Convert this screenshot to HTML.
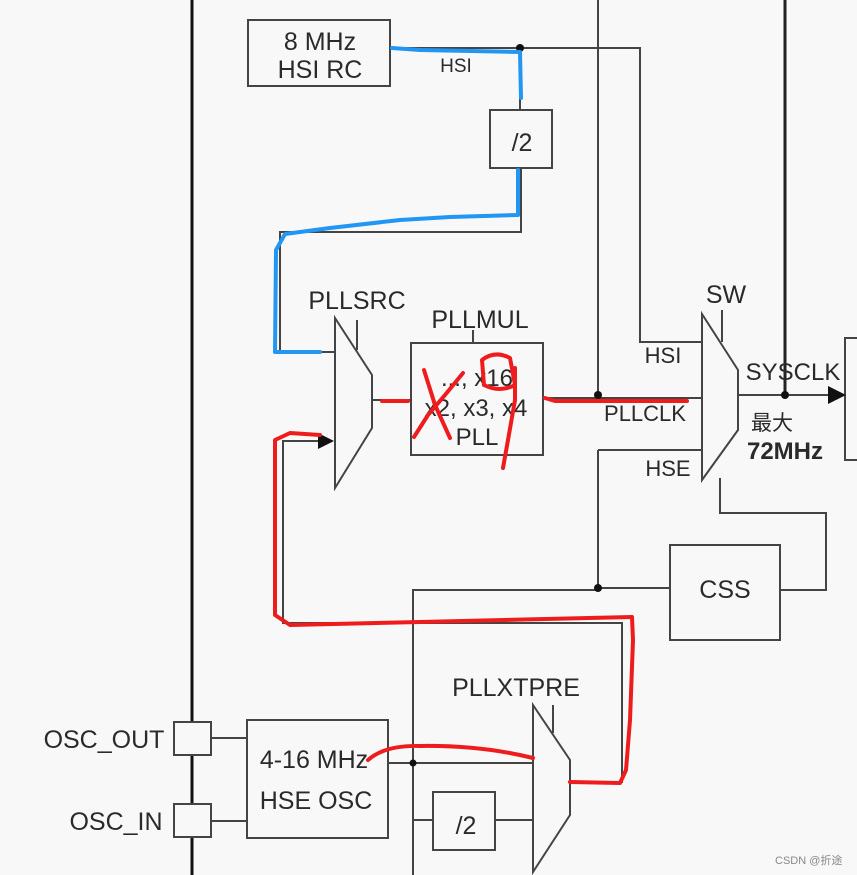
<!DOCTYPE html>
<html><head><meta charset="utf-8"><style>
html,body{margin:0;padding:0;background:#f8f8f8;}
svg{display:block;}
text{font-family:"Liberation Sans","Noto Sans CJK SC",sans-serif;fill:#2a2a2a;}
</style></head><body>
<svg width="857" height="875" viewBox="0 0 857 875" xmlns="http://www.w3.org/2000/svg">
<rect width="857" height="875" fill="#f8f8f8"/>
<g fill="none" stroke="#444" stroke-width="2">
<line x1="192" y1="0" x2="192" y2="875" stroke="#111" stroke-width="3"/>
<line x1="598" y1="0" x2="598" y2="395"/>
<line x1="785" y1="0" x2="785" y2="395" stroke="#222" stroke-width="3"/>
<rect x="248" y="20" width="142" height="66" fill="#f8f8f8"/>
<polyline points="390,48 640,48 640,342 702,342"/>
<line x1="520" y1="48" x2="520" y2="110"/>
<rect x="490" y="110" width="62" height="58"/>
<polyline points="521,168 521,232 280,232 280,352 335,352"/>
<polygon points="335,318 372,375 372,428 335,488"/>
<line x1="357" y1="320" x2="357" y2="350"/>
<line x1="372" y1="400" x2="411" y2="400"/>
<rect x="411" y="343" width="132" height="112"/>
<line x1="473" y1="330" x2="473" y2="343"/>
<line x1="543" y1="398" x2="702" y2="398"/>
<polygon points="702,314 738,370 738,430 702,480"/>
<line x1="722" y1="310" x2="722" y2="342"/>
<line x1="738" y1="395" x2="830" y2="395"/>
<polyline points="598,450 702,450"/>
<line x1="598" y1="450" x2="598" y2="590"/>
<line x1="598" y1="588" x2="670" y2="588"/>
<polyline points="413,875 413,590 598,590"/>
<rect x="670" y="545" width="110" height="95"/>
<polyline points="720,478 720,513 826,513 826,590 780,590"/>
<rect x="845" y="338" width="20" height="122"/>
<polyline points="570,782 622,782 622,623 283,623 283,441 320,441"/>
<rect x="174" y="722" width="37" height="33" fill="#f8f8f8"/>
<rect x="174" y="804" width="37" height="33" fill="#f8f8f8"/>
<line x1="211" y1="738" x2="247" y2="738"/>
<line x1="211" y1="821" x2="247" y2="821"/>
<rect x="247" y="720" width="141" height="118"/>
<line x1="388" y1="763" x2="533" y2="763"/>
<line x1="413" y1="820" x2="433" y2="820"/>
<rect x="433" y="792" width="62" height="58"/>
<line x1="495" y1="820" x2="533" y2="820"/>
<polygon points="533,705 570,760 570,815 533,872"/>
<line x1="553" y1="705" x2="553" y2="733"/>
</g>
<g fill="#111">
<circle cx="520" cy="48" r="4"/>
<circle cx="598" cy="395" r="4"/>
<circle cx="785" cy="395" r="4"/>
<circle cx="598" cy="588" r="4"/>
<circle cx="413" cy="763" r="3.5"/>
<polygon points="318,433 334,441 318,449"/>
<polygon points="828,386 846,395 828,404"/>
</g>
<g font-size="25" text-anchor="middle">
<text x="320" y="50">8 MHz</text>
<text x="320" y="78">HSI RC</text>
<text x="522" y="151">/2</text>
<text x="357" y="309">PLLSRC</text>
<text x="480" y="328">PLLMUL</text>
<text x="477" y="386" font-size="24">..., x16</text>
<text x="476" y="416" font-size="24">x2, x3, x4</text>
<text x="477" y="445" font-size="24">PLL</text>
<text x="726" y="303">SW</text>
<text x="663" y="363" font-size="22">HSI</text>
<text x="645" y="421" font-size="22">PLLCLK</text>
<text x="668" y="476" font-size="22">HSE</text>
<text x="793" y="380" font-size="24">SYSCLK</text>
<text x="772" y="430" font-size="21">最大</text>
<text x="785" y="459" font-weight="bold" font-size="24">72MHz</text>
<text x="725" y="598">CSS</text>
<text x="516" y="696">PLLXTPRE</text>
<text x="314" y="768">4-16 MHz</text>
<text x="316" y="809">HSE OSC</text>
<text x="466" y="834">/2</text>
<text x="104" y="748">OSC_OUT</text>
<text x="116" y="830">OSC_IN</text>
<text x="456" y="72" font-size="19">HSI</text>
</g>
<text x="775" y="864" font-size="11" style="fill:#888">CSDN @折途</text>
<g fill="none" stroke="#2196f3" stroke-width="4" stroke-linecap="round" stroke-linejoin="round">
<polyline points="392,48 420,50 520,52 521,98"/>
<polyline points="518,170 518,215 450,217 400,220 330,228 285,234 276,250 275,352 320,352"/>
</g>
<g fill="none" stroke="#ee1c1c" stroke-width="4" stroke-linecap="round" stroke-linejoin="round">
<polyline points="382,401 408,401"/>
<polyline points="424,370 435,405 450,438"/>
<polyline points="463,373 445,395 428,415 414,437"/>
<path d="M484,385 L482,360 Q495,350 510,358 L515,385 Q500,393 484,385"/>
<polyline points="515,368 515,400 508,440 503,468"/>
<polyline points="545,398 555,401 687,401"/>
<polyline points="320,435 290,433 275,440 275,615 290,625 420,622 632,617 633,640 630,720 626,770 620,783 570,782"/>
<path d="M368,760 Q385,745 420,746 Q480,745 533,758"/>
</g>
</svg>
</body></html>
